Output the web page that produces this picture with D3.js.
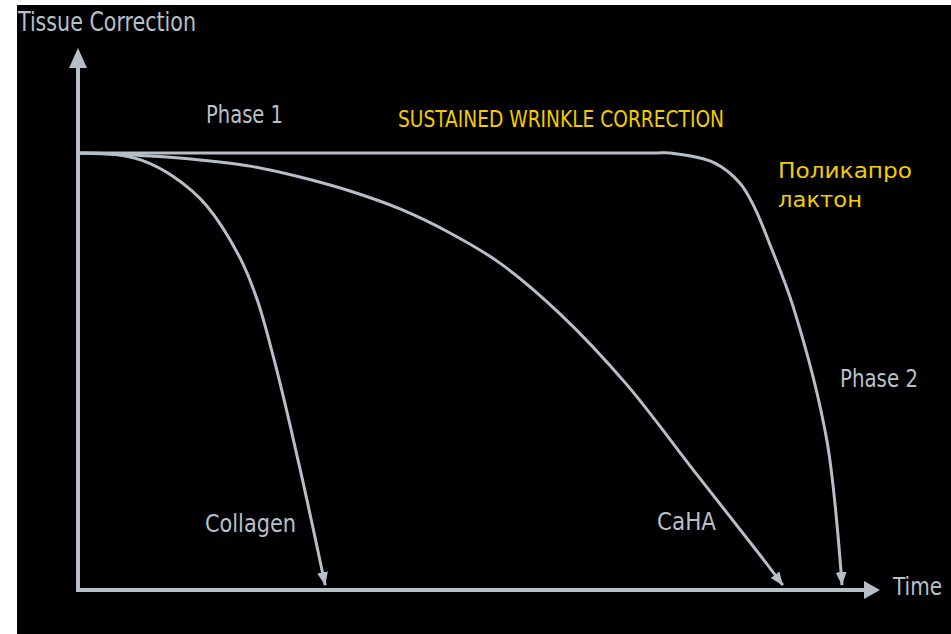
<!DOCTYPE html>
<html>
<head>
<meta charset="utf-8">
<script src="https://cdn.jsdelivr.net/npm/d3@7"></script>
<style>
  html, body { margin: 0; padding: 0; background: #fff; }
  svg { display: block; }
</style>
</head>
<body>
<div id="chart"></div>
<script>
// time (0-100) vs tissue correction (0-100, plateau = 100)
const collagenT = [0, 4, 8, 12, 16, 20.25, 22.4, 24.4, 26.5, 28.75, 30.9];
const collagenV = [100, 99.8, 98.3, 94.5, 88.1, 76.0, 66.4, 53.5, 37.8, 19.5, 1.1];

const cahaT = [0, 9, 15.25, 21.5, 27.75, 34, 40.25, 46.5, 52.75, 60.25, 68.6, 76.9, 85.25, 88.1];
const cahaV = [100, 99.3, 98.4, 97.0, 94.5, 91.3, 87.2, 81.7, 74.8, 63.2, 47.0, 27.5, 8.0, 1.1];

const pclT = [0, 36, 72, 74, 79.6, 82.75, 84.6, 86.5, 89.4, 93.6, 95.5];
const pclV = [100, 100, 100, 100, 97.7, 93.1, 87.4, 79.0, 64.8, 34.3, 1.1];

const main = function() {
  const W = 951, H = 634;
  const lineColor = "#b6bec6";
  const textColor = "#b8c0c8";
  const yellow = "#f2cc00";
  const grayFont = "'Liberation Sans Narrow', 'DejaVu Sans Condensed', 'Open Sans', sans-serif";

  const svg = d3.select("#chart").append("svg")
    .attr("width", W).attr("height", H);

  svg.append("rect").attr("x", 17).attr("y", 5)
    .attr("width", W - 17).attr("height", H - 5).attr("fill", "#000");

  const x = d3.scaleLinear().domain([0, 100]).range([78, 878]);
  const y = d3.scaleLinear().domain([0, 100]).range([590, 153]);

  const defs = svg.append("defs");
  defs.append("marker")
    .attr("id", "tip")
    .attr("markerUnits", "userSpaceOnUse")
    .attr("viewBox", "0 -6 13 12")
    .attr("refX", 13).attr("refY", 0)
    .attr("markerWidth", 13).attr("markerHeight", 12)
    .attr("orient", "auto")
    .append("path").attr("d", "M0,-5.5L13,0L0,5.5Z").attr("fill", lineColor);

  // axes
  const x0 = x(0), y0 = y(0);
  svg.append("line").attr("x1", x0).attr("y1", y0 + 2).attr("x2", x0).attr("y2", 66)
    .attr("stroke", lineColor).attr("stroke-width", 4);
  svg.append("path")
    .attr("d", `M${x0},48L${x0 - 9},68L${x0 + 9},68Z`)
    .attr("fill", lineColor);
  svg.append("line").attr("x1", x0 - 2).attr("y1", y0).attr("x2", 866).attr("y2", y0)
    .attr("stroke", lineColor).attr("stroke-width", 4);
  svg.append("path")
    .attr("d", `M880,${y0}L864,${y0 - 9}L864,${y0 + 9}Z`)
    .attr("fill", lineColor);

  // curves
  const line = d3.line()
    .x(d => x(d[0])).y(d => y(d[1]))
    .curve(d3.curveCatmullRom.alpha(0.5));

  const series = [
    d3.zip(pclT, pclV),
    d3.zip(cahaT, cahaV),
    d3.zip(collagenT, collagenV)
  ];

  svg.selectAll(".curve")
    .data(series)
    .enter()
    .append("path")
    .attr("class", "curve")
    .attr("d", line)
    .attr("fill", "none")
    .attr("stroke", lineColor)
    .attr("stroke-width", 3)
    .attr("marker-end", "url(#tip)");

  // labels
  const gray = [
    { t: "Tissue Correction", x: 18, y: 31, len: 178, size: 26 },
    { t: "Phase 1", x: 206, y: 123, len: 77, size: 25 },
    { t: "Phase 2", x: 840, y: 387, len: 78, size: 25 },
    { t: "Collagen", x: 205, y: 532, len: 91, size: 25 },
    { t: "CaHA", x: 657, y: 530, len: 59, size: 25 },
    { t: "Time", x: 893, y: 595, len: 49, size: 25 }
  ];
  svg.selectAll(".glabel")
    .data(gray)
    .enter()
    .append("text")
    .attr("x", d => d.x).attr("y", d => d.y)
    .attr("textLength", d => d.len)
    .attr("lengthAdjust", "spacingAndGlyphs")
    .style("font-family", grayFont)
    .style("font-size", d => d.size + "px")
    .attr("fill", textColor)
    .text(d => d.t);

  const yl = [
    { t: "SUSTAINED WRINKLE CORRECTION", x: 398, y: 127, len: 326, size: 23 },
    { t: "Поликапро", x: 778, y: 178, len: 134, size: 22 },
    { t: "лактон", x: 778, y: 207, len: 84, size: 22 }
  ];
  svg.selectAll(".ylabel")
    .data(yl)
    .enter()
    .append("text")
    .attr("x", d => d.x).attr("y", d => d.y)
    .attr("textLength", d => d.len)
    .attr("lengthAdjust", "spacingAndGlyphs")
    .style("font-family", (d, i) => i === 0 ? grayFont : "'DejaVu Sans', sans-serif")
    .style("font-size", d => d.size + "px")
    .attr("fill", yellow)
    .text(d => d.t);
};

window.onload = main;
</script>
</body>
</html>
